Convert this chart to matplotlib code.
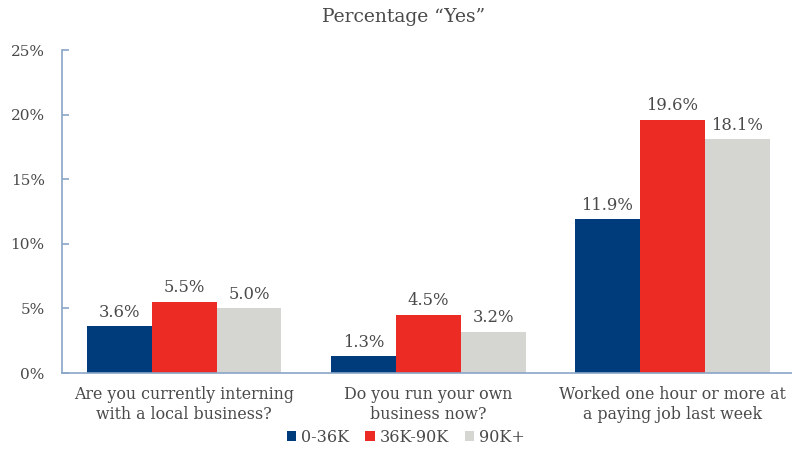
import matplotlib
matplotlib.use("Agg")
import matplotlib.pyplot as plt
import numpy as np

categories = ["Are you currently interning\nwith a local business?",
              "Do you run your own\nbusiness now?",
              "Worked one hour or more at\na paying job last week"]
series_names = ["0-36K", "36K-90K", "90K+"]
v_low = [3.6, 1.3, 11.9]
v_mid = [5.5, 4.5, 19.6]
v_high = [5.0, 3.2, 18.1]
yticks = [0, 5, 10, 15, 20, 25]
colors = ["#003b7c", "#ec2b24", "#d5d5d1"]
title = "Percentage \u201cYes\u201d"

plt.rcParams['font.family'] = ['DejaVu Serif']
W, H = 792, 461
fig = plt.figure(figsize=(W/100, H/100), dpi=100)
ax = fig.add_axes([62/W, (H-373)/H, (792-62)/W, (373-50)/H])

x = np.arange(len(categories))
bw = 0.266
textc = "#4a4a4a"
for i, (vals, c, name) in enumerate(zip([v_low, v_mid, v_high], colors, series_names)):
    pos = x + (i-1)*bw
    ax.bar(pos, vals, width=bw, color=c, label=name, zorder=2)
    for p, v in zip(pos, vals):
        ax.annotate(f"{v:.1f}%", (p, v), xytext=(0, 4), textcoords="offset points",
                    ha="center", va="bottom", fontsize=11.8, color=textc)

ax.set_xlim(-0.5, 2.49)
ax.set_ylim(0, 25)
ax.set_yticks(yticks)
ax.set_yticklabels([f"{t}%" for t in yticks], fontsize=11, color=textc)
ax.set_xticks(x)
ax.set_xticklabels(categories, fontsize=11.4, color=textc, linespacing=1.3)
spc = "#8aa6c8"
for s in ["top", "right"]:
    ax.spines[s].set_visible(False)
ax.spines["left"].set_color(spc)
ax.spines["bottom"].set_color(spc)
ax.spines["left"].set_linewidth(1.2)
ax.spines["bottom"].set_linewidth(1.2)
ax.tick_params(axis="y", direction="in", length=5, color=spc, width=1.2, pad=12.5)
ax.tick_params(axis="x", length=0, pad=9)

fig.text(404/W, 1-17/H, title, ha="center", va="center", fontsize=13.5, color=textc)

leg = fig.legend(loc="center", bbox_to_anchor=(406/W, 1-437/H), ncol=3, frameon=False,
                 handlelength=0.6, handleheight=0.6, handletextpad=0.3, columnspacing=1.0,
                 fontsize=11.5)
for t in leg.get_texts():
    t.set_color(textc)

fig.savefig("out.png", dpi=100)
